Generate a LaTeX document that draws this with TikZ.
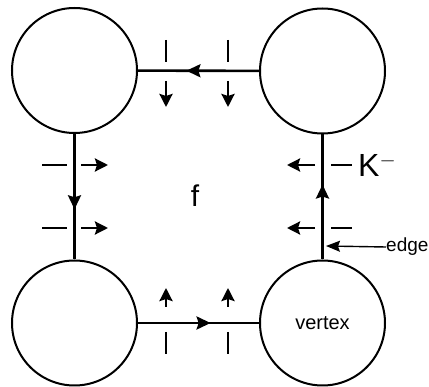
\documentclass[tikz,border=0pt]{standalone}
\usepackage{fontspec}
\setmainfont{Liberation Sans}
\usetikzlibrary{arrows.meta,decorations.markings}

\tikzset{
	vtx/.style={circle, draw, line width=2pt, minimum size=125pt, inner sep=0pt, font=\fontsize{20}{24}\selectfont},
	edg/.style={line width=2.6pt, decoration={markings, mark=at position 0.6 with {\arrow{Stealth[length=14pt,width=13pt,inset=2pt]}}}, postaction={decorate}},
	tickmark/.style={line width=2.6pt},
	dualarr/.style={line width=2.6pt, -{Stealth[length=13pt,width=13pt,inset=2pt]}},
}

\begin{document}
\begin{tikzpicture}[x=1pt, y=-1pt]
		\useasboundingbox (0,0) rectangle (429,387);

		% vertices
		\node[vtx] (tl) at (74.5,70.5) {};
		\node[vtx] (tr) at (322.5,71) {};
		\node[vtx] (bl) at (74.5,323) {};
		\node[vtx] (br) at (322.5,323) {vertex};

		% edges round the face
		\draw[edg] (tr) -- (tl);
		\draw[edg] (tl) -- (bl);
		\draw[edg] (bl) -- (br);
		\draw[edg] (br) -- (tr);

		% ticks and arrows of the face
		\foreach \x in {166,228} {
			\draw[tickmark] (\x,40) -- (\x,62);
			\draw[dualarr] (\x,81) -- (\x,107);
			\draw[tickmark] (\x,332) -- (\x,354);
			\draw[dualarr] (\x,307) -- (\x,288);
		}
		\foreach \y in {165,228} {
			\draw[tickmark] (42,\y) -- (67,\y);
			\draw[dualarr] (81,\y) -- (108,\y);
			\draw[tickmark] (331,\y) -- (352,\y);
			\draw[dualarr] (315,\y) -- (287,\y);
		}

		\node (face) at (195,196) {\fontsize{30}{34}\selectfont f};
		\node[anchor=west, inner sep=0pt] (kminus) at (358,165) {\fontsize{32}{36}\selectfont K$^-$};

		% label of the edge
		\coordinate (edgept) at (326,246);
		\node[anchor=west, inner sep=0pt] (edgelbl) at (386,247) {\fontsize{19}{22}\selectfont edge};
		\draw[line width=1.4pt, -{Stealth[length=14pt,width=11pt,inset=2pt]}] (edgelbl.west) -- (edgept);
	\end{tikzpicture}
\end{document}
